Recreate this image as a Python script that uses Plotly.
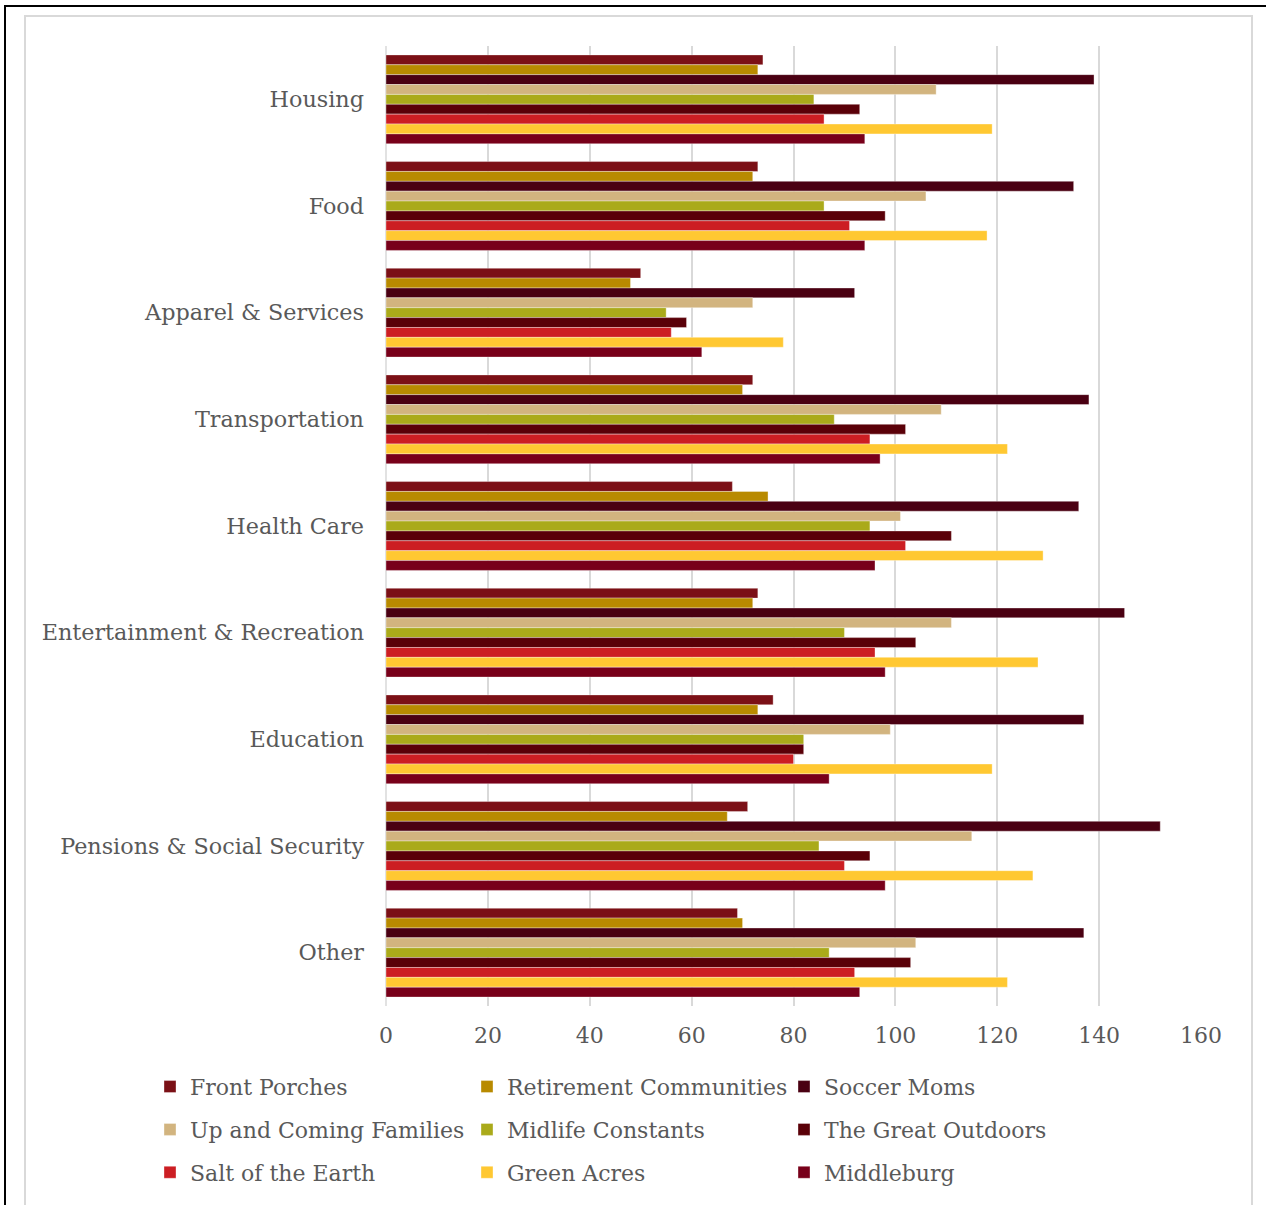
import plotly.graph_objects as go

# Spending index by category for each consumer segment
categories = [
    "Housing", "Food", "Apparel & Services", "Transportation", "Health Care",
    "Entertainment & Recreation", "Education", "Pensions & Social Security", "Other",
]

front_porches = [74, 73, 50, 72, 68, 73, 76, 71, 69]
retirement_communities = [73, 72, 48, 70, 75, 72, 73, 67, 70]
soccer_moms = [139, 135, 92, 138, 136, 145, 137, 152, 137]
up_and_coming_families = [108, 106, 72, 109, 101, 111, 99, 115, 104]
midlife_constants = [84, 86, 55, 88, 95, 90, 82, 85, 87]
great_outdoors = [93, 98, 59, 102, 111, 104, 82, 95, 103]
salt_of_the_earth = [86, 91, 56, 95, 102, 96, 80, 90, 92]
green_acres = [119, 118, 78, 122, 129, 128, 119, 127, 122]
middleburg = [94, 94, 62, 97, 96, 98, 87, 98, 93]

series = [
    ("Front Porches", front_porches, "#7B1016", "legend"),
    ("Retirement Communities", retirement_communities, "#B88A00", "legend"),
    ("Soccer Moms", soccer_moms, "#4A0012", "legend"),
    ("Up and Coming Families", up_and_coming_families, "#D2B47F", "legend2"),
    ("Midlife Constants", midlife_constants, "#AAAA1A", "legend2"),
    ("The Great Outdoors", great_outdoors, "#5A0008", "legend2"),
    ("Salt of the Earth", salt_of_the_earth, "#CC1E23", "legend3"),
    ("Green Acres", green_acres, "#FFC832", "legend3"),
    ("Middleburg", middleburg, "#78001A", "legend3"),
]

x_ticks = [0, 20, 40, 60, 80, 100, 120, 140, 160]

FONT = "DejaVu Serif"
TEXT = "#595959"
GRID = "#D9D9D9"

W, H = 1266, 1205
L, R, T, B = 386, 65, 46, 196
PW, PH = W - L - R, H - T - B


def px_x(p):
    return (p - L) / PW


def px_y(p):
    return (H - B - p) / PH


fig = go.Figure()
for name, vals, color, leg in series:
    fig.add_trace(go.Bar(
        y=categories, x=vals, name=name, orientation="h",
        marker=dict(color=color, line=dict(color="rgba(255,255,255,0.35)", width=1)),
        legend=leg,
    ))

legend_common = dict(
    orientation="h", xanchor="left", yanchor="middle",
    font=dict(family=FONT, size=22, color=TEXT),
    entrywidth=272, entrywidthmode="pixels",
    itemwidth=30, bgcolor="rgba(0,0,0,0)", traceorder="normal",
)

fig.update_layout(
    width=W, height=H,
    margin=dict(l=L, r=R, t=T, b=B),
    paper_bgcolor="white", plot_bgcolor="white",
    barmode="group", bargap=0.167, bargroupgap=0,
    font=dict(family=FONT, size=22, color=TEXT),
    showlegend=True,
    legend=dict(x=px_x(150), y=px_y(1090), **legend_common),
    legend2=dict(x=px_x(150), y=px_y(1133), **legend_common),
    legend3=dict(x=px_x(150), y=px_y(1176), **legend_common),
    xaxis=dict(
        range=[0, 160], tickvals=x_ticks, showgrid=True, gridcolor=GRID, gridwidth=1.5,
        zeroline=False, showline=False, ticks="", ticklabelstandoff=14,
        tickfont=dict(family=FONT, size=22, color=TEXT),
    ),
    yaxis=dict(
        autorange="reversed", showgrid=False, zeroline=False, showline=False,
        ticks="", ticklabelstandoff=21,
        tickfont=dict(family=FONT, size=22.3, color=TEXT),
    ),
    shapes=[
        dict(type="line", xref="paper", yref="paper", x0=0, x1=0, y0=0, y1=1,
             line=dict(color=GRID, width=1.5), layer="below"),
        dict(type="rect", xref="paper", yref="paper",
             x0=px_x(25), x1=px_x(1252), y0=px_y(1230), y1=px_y(16),
             line=dict(color=GRID, width=2)),
        dict(type="rect", xref="paper", yref="paper",
             x0=px_x(5), x1=px_x(1290), y0=px_y(1240), y1=px_y(6),
             line=dict(color="black", width=2)),
    ],
)

fig.write_html("out.html")
